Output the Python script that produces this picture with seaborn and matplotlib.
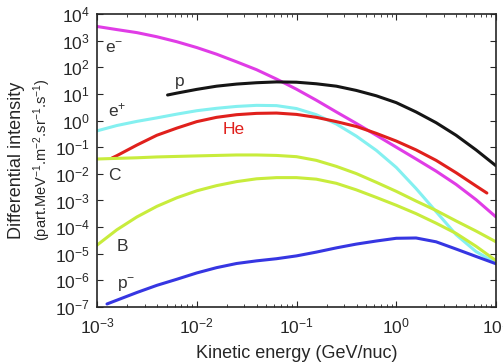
import numpy as np
import pandas as pd
import seaborn as sns
import matplotlib.pyplot as plt

# energy grid read along the x axis (GeV/nuc), every 0.2 decade
grid = [1.0e-3, 1.58e-3, 2.51e-3, 3.98e-3, 6.31e-3, 1.0e-2, 1.58e-2, 2.51e-2, 3.98e-2, 6.31e-2,
        0.1, 0.158, 0.251, 0.398, 0.631, 1.0, 1.58, 2.51, 3.98, 6.31, 10.0]

# intensities (part/(MeV m2 sr s))
e_minus_E = grid
e_minus_I = [3.4e3, 2.6e3, 2.0e3, 1.4e3, 9.1e2, 5.5e2, 3.1e2, 1.6e2, 81, 36,
             15, 5.8, 2.1, 0.78, 0.28, 0.10, 3.6e-2, 1.26e-2, 4.0e-3, 1.07e-3, 2.4e-4]

p_E = [5.1e-3] + grid[4:]
p_I = [9.1, 10.7, 14.8, 19.5, 23.4, 26.3, 28.2, 27.5, 24.0, 19.5,
       13.5, 8.5, 4.7, 2.1, 0.83, 0.28, 7.9e-2, 2.0e-2]

e_plus_E = grid
e_plus_I = [0.41, 0.65, 0.93, 1.26, 1.74, 2.34, 2.88, 3.39, 3.72, 3.63,
            2.82, 1.66, 0.74, 0.26, 7.6e-2, 1.74e-2, 2.8e-3, 3.8e-4, 5.2e-5, 1.2e-5, 4.5e-6]

he_E = [1.41e-3] + grid[1:20] + [8.1]
he_I = [3.9e-2, 4.8e-2, 0.12, 0.28, 0.52, 0.91, 1.32, 1.66, 1.86, 1.91,
        1.70, 1.32, 0.91, 0.60, 0.33, 0.17, 7.9e-2, 3.2e-2, 1.1e-2, 3.5e-3, 1.9e-3]

c_E = grid
c_I = [3.6e-2, 3.8e-2, 4.0e-2, 4.3e-2, 4.5e-2, 4.7e-2, 4.9e-2, 5.1e-2, 5.1e-2, 4.9e-2,
       4.4e-2, 3.2e-2, 1.9e-2, 1.02e-2, 4.8e-3, 2.2e-3, 9.5e-4, 4.2e-4, 1.7e-4, 7.1e-5, 2.8e-5]

b_E = grid
b_I = [2.1e-5, 7.9e-5, 2.4e-4, 6.0e-4, 1.26e-3, 2.3e-3, 3.6e-3, 5.1e-3, 6.5e-3, 7.2e-3,
       7.2e-3, 6.3e-3, 4.4e-3, 2.5e-3, 1.3e-3, 6.6e-4, 3.2e-4, 1.4e-4, 5.8e-5, 1.9e-5, 5.5e-6]

pbar_E = [1.26e-3] + grid[1:]
pbar_I = [1.3e-7, 1.8e-7, 3.5e-7, 6.5e-7, 1.1e-6, 1.9e-6, 3.0e-6, 4.3e-6, 5.4e-6, 6.5e-6,
          8.3e-6, 1.15e-5, 1.66e-5, 2.3e-5, 3.0e-5, 3.8e-5, 3.9e-5, 2.8e-5, 1.5e-5, 7.9e-6, 4.2e-6]

species = ["e-", "p", "e+", "He", "C", "B", "pbar"]
energies = [e_minus_E, p_E, e_plus_E, he_E, c_E, b_E, pbar_E]
intensities = [e_minus_I, p_I, e_plus_I, he_I, c_I, b_I, pbar_I]
colors = ["#e03ce6", "#151515", "#84f0f0", "#e0201c", "#c8ec3c", "#c8ec3c", "#3636e2"]

df = pd.concat([pd.DataFrame({"energy": e, "intensity": i, "species": s})
                for s, e, i in zip(species, energies, intensities)], ignore_index=True)

sns.set_style("ticks")
plt.rcParams["font.family"] = ["Liberation Sans", "DejaVu Sans"]
plt.rcParams["mathtext.fontset"] = "custom"
plt.rcParams["mathtext.rm"] = "Liberation Sans"
plt.rcParams["mathtext.it"] = "Liberation Sans:italic"
plt.rcParams["mathtext.default"] = "regular"

fig = plt.figure(figsize=(5.03, 3.63), dpi=100)
ax = fig.add_axes([97 / 503, 1 - 307 / 363, 399 / 503, 293 / 363])

sns.lineplot(data=df, x="energy", y="intensity", hue="species", palette=dict(zip(species, colors)),
             estimator=None, sort=False, linewidth=2.2, legend=False, ax=ax)

ax.set_xscale("log")
ax.set_yscale("log")
ax.set_xlim(1e-3, 1e1)
ax.set_ylim(1e-7, 1e4)
ax.set_yticks([10.0 ** k for k in range(-7, 5)])
ax.set_xticks([1e-3, 1e-2, 1e-1, 1e0, 1e1])
ax.tick_params(which="both", direction="in", top=True, right=True, labelsize=12.5)
ax.tick_params(axis="x", pad=7)
ax.tick_params(axis="y", pad=5)
ax.tick_params(which="major", length=4, width=0.8)
ax.tick_params(which="minor", length=2, width=0.6)
for sp in ax.spines.values():
    sp.set_linewidth(1.2)

ax.set_xlabel("Kinetic energy (GeV/nuc)", fontsize=13, labelpad=6)
ax.set_ylabel("")
fig.text(17 / 503, 1 - 160 / 363, "Differential intensity", rotation=90,
         ha="center", va="center", fontsize=13)
fig.text(42 / 503, 1 - 160 / 363, "(part.MeV$^{-1}$.m$^{-2}$.sr$^{-1}$.s$^{-1}$)", rotation=90,
         ha="center", va="center", fontsize=10.5)

lab = "#333333"
ax.text(1.5e-3, 490, "e$^{-}$", color=lab, fontsize=12.5, ha="center", va="center")
ax.text(6.8e-3, 30, "p", color=lab, fontsize=12.5, ha="center", va="center")
ax.text(1.6e-3, 2.5, "e$^{+}$", color=lab, fontsize=12.5, ha="center", va="center")
ax.text(2.35e-2, 0.45, "He", color="#e0201c", fontsize=12.5, ha="center", va="center")
ax.text(1.5e-3, 9e-3, "C", color=lab, fontsize=12.5, ha="center", va="center")
ax.text(1.8e-3, 1.8e-5, "B", color=lab, fontsize=12.5, ha="center", va="center")
ax.text(1.95e-3, 7e-7, "p$^{-}$", color=lab, fontsize=12.5, ha="center", va="center")

fig.savefig("out.png", dpi=100)
